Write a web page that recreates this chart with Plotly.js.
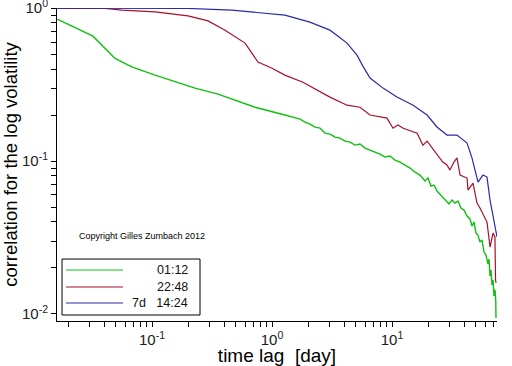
<!DOCTYPE html>
<html>
<head>
<meta charset="utf-8">
<script src="https://cdn.plot.ly/plotly-3.0.1.min.js"></script>
<style>html,body{margin:0;padding:0;background:#fff;}#chart{width:512px;height:366px;}</style>
</head>
<body>
<div id="chart"></div>
<script>
// lag in days, correlation of log volatility
var greenLag = [0.0162,0.0322,0.0492,0.0677,0.106,0.228,0.355,0.722,1.28,
  1.711,1.884,2.074,2.282,2.512,2.765,3.043,3.350,3.687,4.058,4.467,4.917,5.412,5.957,6.557,7.217,7.943,8.743,9.624,10.59,
  11.66,12.83,14.13,15.55,17.11,18.84,19.95,21.13,22.39,23.71,25.12,26.61,28.18,29.85,31.62,33.50,35.48,37.58,39.81,42.17,
  44.67,46.42,48.23,50.12,52.08,54.12,56.23,58.43,60.72,63.10,64.32,65.57,66.83,68.13,69.45,70.79,72.16,73.2,73.56];
var greenCorr = [0.847,0.656,0.469,0.413,0.365,0.300,0.274,0.225,0.200,
  0.1881,0.1799,0.1745,0.1668,0.1643,0.1524,0.1501,0.1435,0.1413,0.1351,0.1331,0.1272,0.1292,0.1216,0.1180,0.1145,0.1111,0.1062,0.1078,0.1015,
  0.0985,0.0941,0.0900,0.0847,0.0810,0.0740,0.0774,0.0686,0.0697,0.0637,0.0608,0.0573,0.0556,0.0524,0.0556,0.0531,0.0548,0.0493,0.0478,0.0437,
  0.0418,0.0376,0.0399,0.0338,0.0328,0.0295,0.0305,0.0254,0.0243,0.0212,0.0229,0.0177,0.0194,0.0155,0.0167,0.0131,0.0144,0.0123,0.0094];

var redLag = [0.0162,0.0406,0.0562,0.106,0.1995,0.293,0.406,0.596,0.764,1.0,1.28,1.81,3.04,4.22,5.41,6.56,9.08,10.2,11.2,12.4,16.2,18.1,19.6,21.5,25.1,
  26.5,28.7,30.4,32.8,34.8,36.9,42.2,43.0,47.3,51.1,54.1,61.9,65.6,69.5,72.1,72.9,73.56];
var redCorr = [0.996,0.996,0.970,0.946,0.891,0.826,0.718,0.591,0.444,0.405,0.365,0.328,0.262,0.232,0.225,0.200,0.191,0.164,0.172,0.164,0.152,0.127,0.135,0.123,0.105,
  0.0985,0.0942,0.0873,0.0985,0.105,0.081,0.0774,0.0646,0.0718,0.0531,0.0493,0.0399,0.0274,0.0338,0.0319,0.0167,0.016];

var blueLag = [0.0162,0.0926,0.1995,0.464,0.926,1.28,2.07,3.04,4.22,5.11,5.72,6.56,8.41,11.0,15.0,19.6,23.7,28.7,34.8,42.2,46.4,52.1,57.3,61.9,65.6,72.1,75.0];
var blueCorr = [1.0,1.0,0.996,0.970,0.923,0.900,0.810,0.718,0.591,0.493,0.418,0.349,0.300,0.262,0.232,0.200,0.167,0.148,0.148,0.131,0.105,0.0729,0.081,0.0786,0.0556,0.037,0.0319];

var seriesNames = ["01:12", "22:48", "7d\u00a0\u00a0\u00a014:24"];
var seriesColors = ["#10c010", "#a8102a", "#2a2aa8"];
var lineWidths = [1.4, 1.2, 1.2];

var xTickVals = [], xTickText = [];
[0.01,0.1,1,10].forEach(function(d){
  for (var k=1;k<=9;k++){ var v=k*d; if(v>=0.017 && v<=75){ xTickVals.push(v); xTickText.push(k===1 ? "10<sup>"+Math.round(Math.log10(d))+"</sup>" : ""); } }
});
var yTickVals = [], yTickText = [];
[0.01,0.1,1].forEach(function(d){
  for (var k=1;k<=9;k++){ var v=k*d; if(v<=1.0001){ yTickVals.push(v); yTickText.push(k===1 ? "10<sup>"+Math.round(Math.log10(d))+"</sup>" : ""); } }
});

var lags = [greenLag, redLag, blueLag];
var corrs = [greenCorr, redCorr, blueCorr];
var data = lags.map(function(lx, i){
  return {x: lx, y: corrs[i], name: seriesNames[i], mode: "lines", showlegend: false,
          line: {color: seriesColors[i], width: lineWidths[i]}};
});

// hand-drawn legend box (paper coordinates)
var legendBox = {x0: 0.0114, x1: 0.325, y0: 0.0192, y1: 0.198};
var legendRowsY = [0.163, 0.1086, 0.0575];
var shapes = [{type: "rect", xref: "paper", yref: "paper", x0: legendBox.x0, x1: legendBox.x1, y0: legendBox.y0, y1: legendBox.y1,
               line: {color: "#000", width: 1}, fillcolor: "#fff", layer: "above"}];
var annotations = [{xref: "paper", yref: "paper", x: 0.045, y: 0.272, xanchor: "left", yanchor: "middle", showarrow: false,
                 text: "Copyright Gilles Zumbach 2012", font: {size: 9, color: "#000"}}];
seriesNames.forEach(function(nm, i){
  shapes.push({type: "line", xref: "paper", yref: "paper", x0: 0.0205, x1: 0.15, y0: legendRowsY[i], y1: legendRowsY[i],
               line: {color: seriesColors[i], width: 1.2}, layer: "above"});
  annotations.push({xref: "paper", yref: "paper", x: 0.302, y: legendRowsY[i], xanchor: "right", yanchor: "middle",
                    showarrow: false, text: nm, font: {size: 12.5, color: "#111"}});
});

var layout = {
  width: 512, height: 366,
  margin: {l: 57, r: 15, t: 8, b: 45},
  paper_bgcolor: "#fff", plot_bgcolor: "#fff",
  font: {family: "Liberation Sans, Arial, sans-serif", color: "#000"},
  showlegend: false,
  xaxis: {type: "log", range: [-1.792, 1.875], showgrid: false, zeroline: false, showline: true, linecolor: "#000", linewidth: 1,
          ticks: "outside", ticklen: 5, tickcolor: "#000", tickvals: xTickVals, ticktext: xTickText,
          tickfont: {size: 15, color: "#222"}, ticklabeloverflow: "allow",
          title: {text: "time lag\u00a0\u00a0[day]", font: {size: 19, color: "#000"}, standoff: 2}},
  yaxis: {type: "log", range: [-2.046, 0.001], showgrid: false, zeroline: false, showline: true, linecolor: "#000", linewidth: 1,
          ticks: "outside", ticklen: 5, tickcolor: "#000", tickvals: yTickVals, ticktext: yTickText,
          tickfont: {size: 15, color: "#222"}, ticklabeloverflow: "allow",
          title: {text: "correlation for the log volatility", font: {size: 18.5, color: "#000"}, standoff: 0}},
  shapes: shapes,
  annotations: annotations
};

Plotly.newPlot("chart", data, layout, {staticPlot: true, displayModeBar: false});
</script>
</body>
</html>
